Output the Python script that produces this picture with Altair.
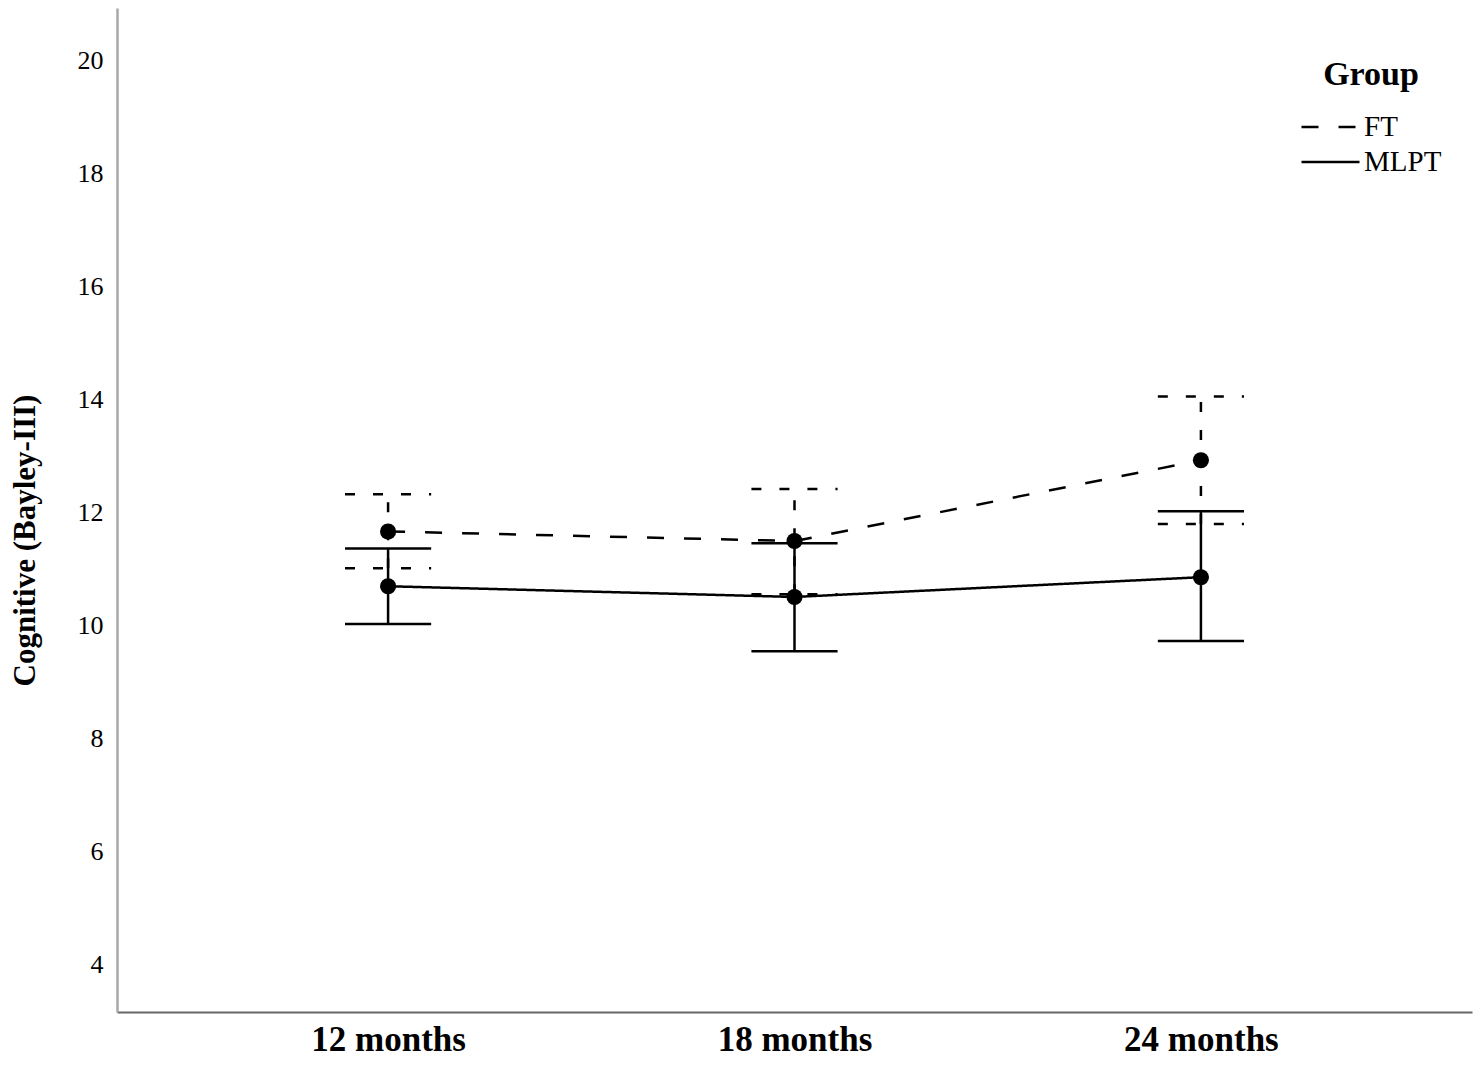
import altair as alt
import pandas as pd

categories = ["12 months", "18 months", "24 months"]
groups = ["FT", "MLPT"]
ft_mean = [11.66, 11.49, 12.92]
ft_low = [11.01, 10.55, 11.79]
ft_high = [12.32, 12.41, 14.05]
mlpt_mean = [10.69, 10.50, 10.85]
mlpt_low = [10.02, 9.54, 9.72]
mlpt_high = [11.36, 11.45, 12.02]
y_ticks = [4, 6, 8, 10, 12, 14, 16, 18, 20]

rows = []
for g, m, lo, hi in [("FT", ft_mean, ft_low, ft_high), ("MLPT", mlpt_mean, mlpt_low, mlpt_high)]:
    for i, c in enumerate(categories):
        rows.append({"time": c, "idx": i, "group": g, "mean": m[i], "low": lo[i], "high": hi[i]})
df = pd.DataFrame(rows)

SERIF = "Liberation Serif"
CAP = 0.106

xs = alt.Scale(domain=[-0.667, 2.667], nice=False, zero=False)
ys = alt.Scale(domain=[3.15, 20.93], nice=False, zero=False)
label_expr = "[" + ",".join("'%s'" % c for c in categories) + "][datum.value]"

x_axis = alt.Axis(values=[0, 1, 2], labelExpr=label_expr, title=None, grid=False, ticks=False,
                  domainColor="#666666", domainWidth=2, labelFont=SERIF, labelFontSize=35,
                  labelFontWeight="bold", labelColor="black", labelPadding=10)
y_axis = alt.Axis(values=y_ticks, format="d", title="Cognitive (Bayley-III)", grid=False, ticks=False,
                  domainColor="#a8a8a8", domainWidth=2.5, labelFont=SERIF, labelFontSize=26,
                  labelColor="black", labelPadding=14, titleFont=SERIF, titleFontSize=31,
                  titleFontWeight="bold", titleColor="black", titleX=-92, titleY=532,
                  titleAngle=270, titleAlign="center", titleBaseline="middle")

base = alt.Chart(df)

def err_layers(g, dash):
    d = base.transform_filter(alt.datum.group == g).transform_calculate(
        xl="datum.idx - %f" % CAP, xr="datum.idx + %f" % CAP)
    props = dict(color="black", strokeWidth=2.5)
    if dash:
        props["strokeDash"] = dash
    vert = d.mark_rule(**props).encode(
        x=alt.X("idx:Q", scale=xs, axis=x_axis),
        y=alt.Y("low:Q", scale=ys, axis=y_axis),
        y2="high:Q")
    top = d.mark_rule(**props).encode(
        x=alt.X("xl:Q", scale=xs), x2="xr:Q", y=alt.Y("high:Q", scale=ys))
    bot = d.mark_rule(**props).encode(
        x=alt.X("xl:Q", scale=xs), x2="xr:Q", y=alt.Y("low:Q", scale=ys))
    return [vert, top, bot]

lines = base.mark_line(color="black", strokeWidth=2.5).encode(
    x=alt.X("idx:Q", scale=xs),
    y=alt.Y("mean:Q", scale=ys),
    strokeDash=alt.StrokeDash("group:N", scale=alt.Scale(domain=groups, range=[[17, 20], [1, 0]]),
                              legend=alt.Legend(title="Group", orient="none", legendX=1183, legendY=50,
                                                symbolType="stroke", symbolSize=3364,
                                                symbolStrokeWidth=2.5, symbolStrokeColor="black",
                                                titleFont=SERIF, titleFontSize=34, titleFontWeight="bold",
                                                titleColor="black", titleAnchor="middle", titleAlign="center",
                                                labelFont=SERIF, labelFontSize=29, labelColor="black",
                                                labelOffset=3, clipHeight=28, rowPadding=6, titlePadding=21)),
    detail="group:N")

points = base.mark_point(filled=True, color="black", opacity=1, size=260, shape="circle").encode(
    x=alt.X("idx:Q", scale=xs),
    y=alt.Y("mean:Q", scale=ys))

layers = err_layers("FT", [10, 18]) + err_layers("MLPT", None) + [lines, points]

chart = alt.layer(*layers).properties(
    width=1355, height=1004,
    autosize=alt.AutoSizeParams(type="none"),
    padding={"left": 109, "top": 0, "right": 2, "bottom": 45},
    background="white",
).configure_view(stroke=None)

chart.save("out.html", embed_options={"renderer": "svg", "actions": False})
